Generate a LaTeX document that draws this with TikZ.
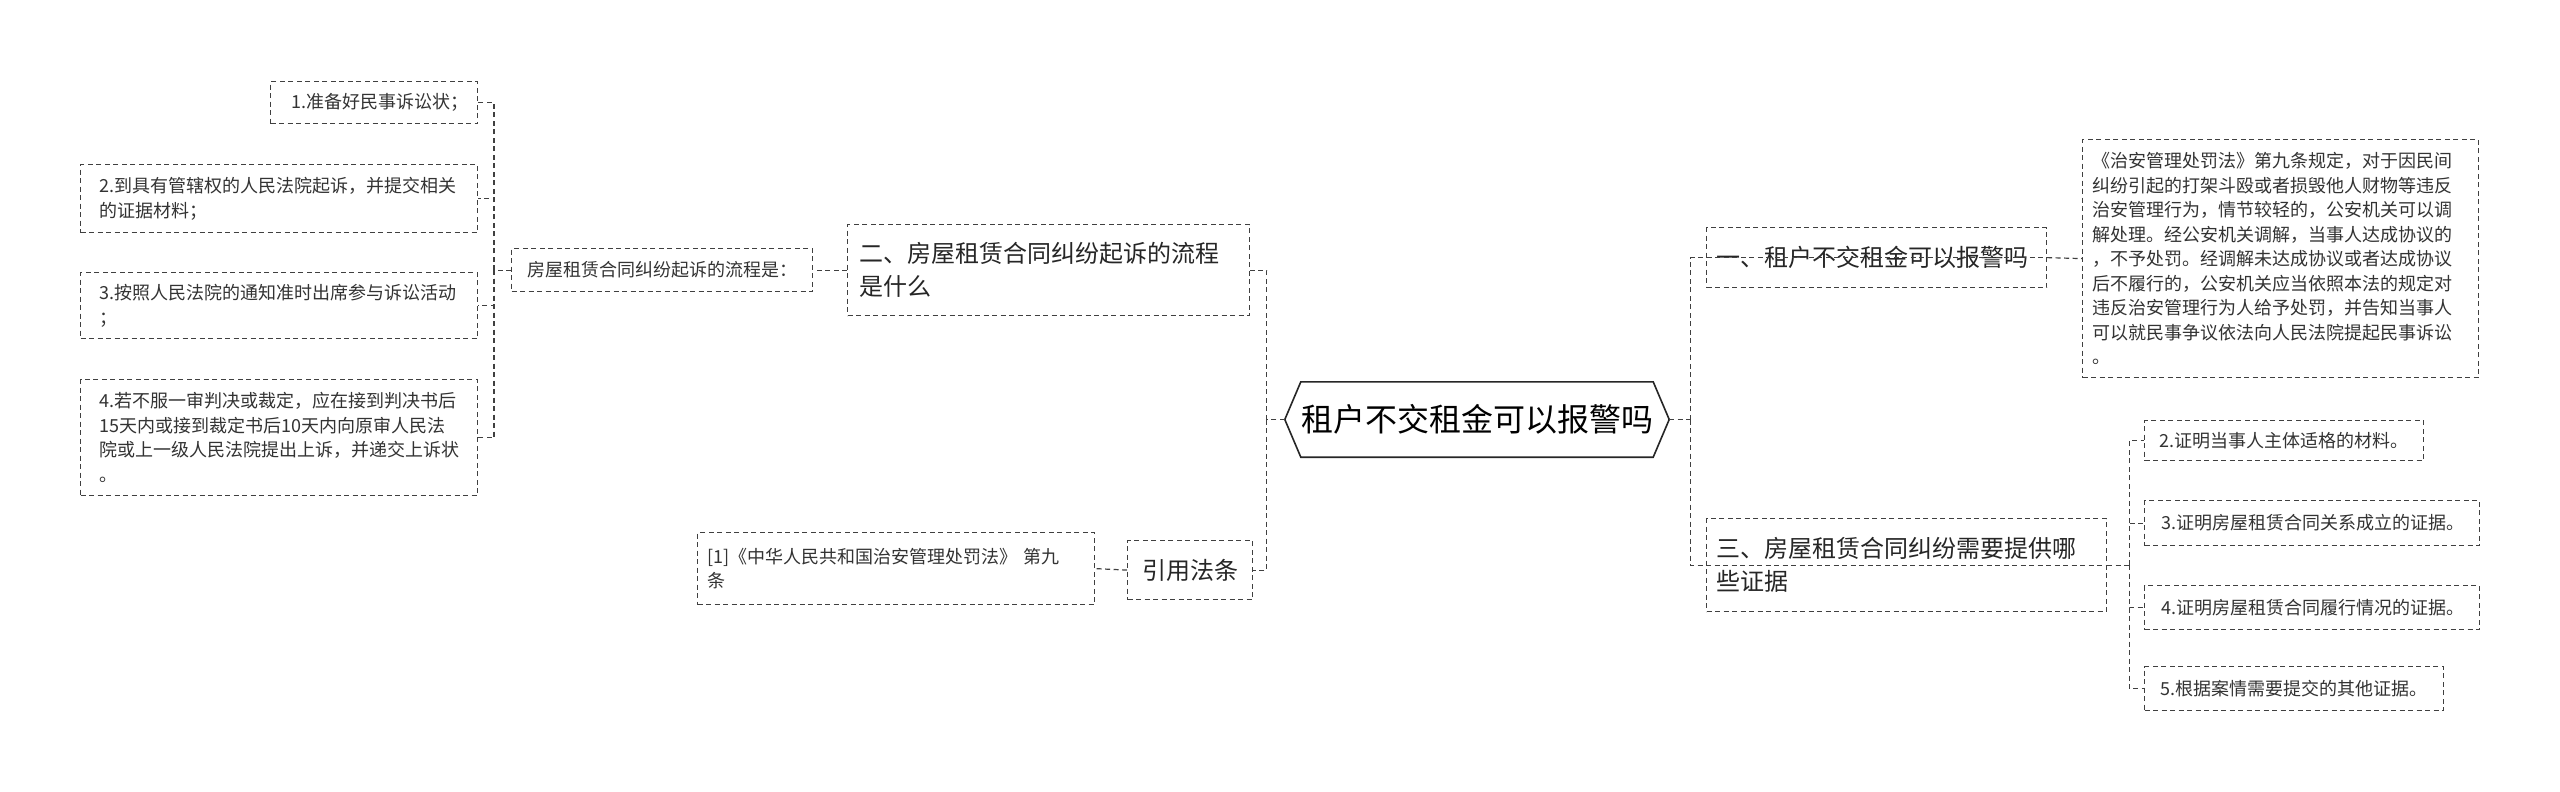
\documentclass[tikz,border=0pt]{standalone}
\usepackage{fontspec}
\setmainfont{Noto Sans CJK SC}
\begin{document}
\begin{tikzpicture}[x=1pt,y=-1pt,
  box/.style={draw=black!75,dash pattern=on 5pt off 3.5pt,line width=1.2pt,inner sep=0pt,align=left,anchor=north west},
  sm/.style={font=\fontsize{18}{24.5}\selectfont,text=black!80},
  lg/.style={font=\fontsize{24}{33}\selectfont,text=black!85},
  conn/.style={draw=black!75,dash pattern=on 5pt off 3.5pt,line width=1.2pt}]
\fill[white] (0,0) rectangle (2560,792);
\useasboundingbox (0,0) rectangle (2560,792);
% helper: rectangle boxes drawn via nodes with min sizes
\node[box,sm,minimum width=207pt,minimum height=42pt,text width=185pt] (l1) at (270,81) {\hspace*{10pt}1.准备好民事诉讼状；};
\node[box,sm,minimum width=397pt,minimum height=68pt,text width=380pt] (l2) at (80,164) {\hspace*{10pt}\parbox{375pt}{2.到具有管辖权的人民法院起诉，并提交相关\\的证据材料；}};
\node[box,sm,minimum width=397pt,minimum height=66pt,text width=380pt] (l3) at (80,272) {\hspace*{10pt}\parbox{375pt}{3.按照人民法院的通知准时出席参与诉讼活动\\；}};
\node[box,sm,minimum width=397pt,minimum height=116pt,text width=380pt] (l4) at (80,379) {\hspace*{10pt}\parbox{375pt}{4.若不服一审判决或裁定，应在接到判决书后\\15天内或接到裁定书后10天内向原审人民法\\院或上一级人民法院提出上诉，并递交上诉状\\。}};
\node[box,sm,minimum width=301pt,minimum height=43pt] (lp) at (511,248) {\hspace*{8pt}房屋租赁合同纠纷起诉的流程是：\hspace*{8pt}};
\node[box,lg,minimum width=402pt,minimum height=91pt,text width=402pt] (b2) at (847,224) {\hspace*{12pt}\parbox{380pt}{二、房屋租赁合同纠纷起诉的流程\\是什么}};
\node[box,lg,minimum width=125pt,minimum height=59pt,align=center,text width=125pt] (yf) at (1127,540) {引用法条};
\node[box,sm,minimum width=397pt,minimum height=72pt,text width=397pt] (law) at (697,532) {\hspace*{10pt}\parbox{380pt}{[1]《中华人民共和国治安管理处罚法》 第九\\条}};
% center
\node[lg,font=\fontsize{32}{38}\selectfont,text=black,minimum width=384pt,minimum height=75pt,inner sep=0pt] (c) at (1477,419.5) {租户不交租金可以报警吗};
\draw[line width=1.6pt,black!85] ([xshift=16pt]c.north west) -- ([xshift=-16pt]c.north east) -- (c.east) -- ([xshift=-16pt]c.south east) -- ([xshift=16pt]c.south west) -- (c.west) -- cycle;
% right
\node[box,lg,minimum width=340pt,minimum height=60pt,text width=340pt] (r1) at (1706,227) {\hspace*{10pt}一、租户不交租金可以报警吗};
\node[box,sm,minimum width=396pt,minimum height=238pt,text width=396pt] (txt) at (2082,139) {\hspace*{10pt}\parbox{380pt}{《治安管理处罚法》第九条规定，对于因民间\\纠纷引起的打架斗殴或者损毁他人财物等违反\\治安管理行为，情节较轻的，公安机关可以调\\解处理。经公安机关调解，当事人达成协议的\\，不予处罚。经调解未达成协议或者达成协议\\后不履行的，公安机关应当依照本法的规定对\\违反治安管理行为人给予处罚，并告知当事人\\可以就民事争议依法向人民法院提起民事诉讼\\。}};
\node[box,lg,minimum width=400pt,minimum height=93pt,text width=400pt] (r3) at (1706,518) {\hspace*{10pt}\parbox{385pt}{三、房屋租赁合同纠纷需要提供哪\\些证据}};
\node[box,sm,minimum width=279pt,minimum height=40pt] (e2) at (2144,420) {\hspace*{8pt}2.证明当事人主体适格的材料。\hspace*{8pt}};
\node[box,sm,minimum width=335pt,minimum height=45pt] (e3) at (2144,500) {\hspace*{8pt}3.证明房屋租赁合同关系成立的证据。\hspace*{6pt}};
\node[box,sm,minimum width=335pt,minimum height=44pt] (e4) at (2144,585) {\hspace*{8pt}4.证明房屋租赁合同履行情况的证据。\hspace*{6pt}};
\node[box,sm,minimum width=299pt,minimum height=44pt] (e5) at (2144,666) {\hspace*{8pt}5.根据案情需要提交的其他证据。\hspace*{8pt}};
% connectors
\draw[conn] (c.west) -- ++(-18,0) coordinate (cl);
\draw[conn] (cl) |- (b2.east);
\draw[conn] (cl) |- (yf.east);
\draw[conn] (c.east) -- ++(21,0) coordinate (cr);
\draw[conn] (cr) |- (r1.east);
\draw[conn] (cr) |- (r3.east);
\draw[conn] (b2.west) -- (lp.east);
\draw[conn] (lp.west) -- ++(-17,0) coordinate (lc);
\foreach \n in {l1,l2,l3,l4} \draw[conn] (lc) |- (\n.east);
\draw[conn] (yf.west) -- (law.east);
\draw[conn] (r1.east) -- (txt.west);
\draw[conn] (r3.east) -- ++(22,0) coordinate (rc);
\foreach \n in {e2,e3,e4,e5} \draw[conn] (rc) |- (\n.west);
\end{tikzpicture}
\end{document}
